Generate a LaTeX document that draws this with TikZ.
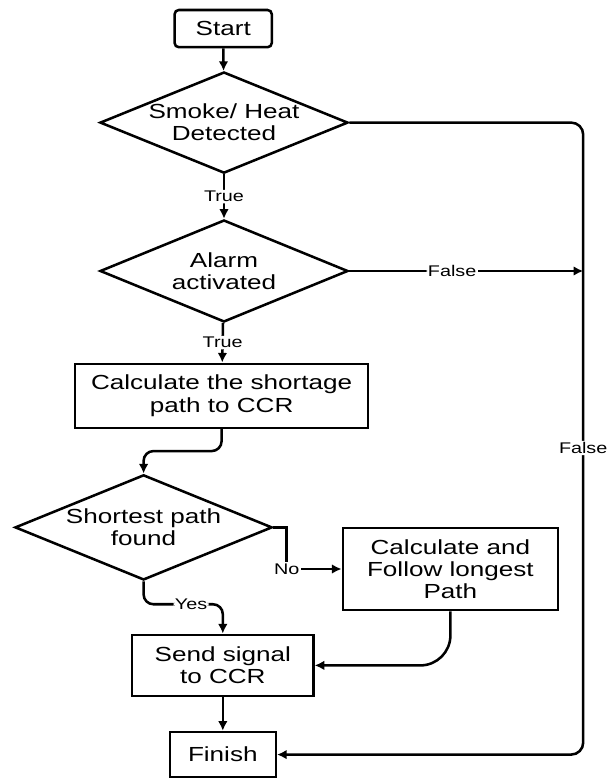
\documentclass[tikz,border=0pt]{standalone}
\usepackage{fontspec}
\setmainfont[FakeStretch=1.28]{Liberation Sans}
\usepackage{tikz}
\usetikzlibrary{
  arrows.meta,
  calc,
  positioning,
  shapes.geometric
}
\definecolor{flowInk}{HTML}{000000}
\tikzset{
  flowBox/.style={
    draw=flowInk,
    line width=1.8pt,
    align=center,
    inner sep=2pt,
    font=\fontsize{14.5}{15.8}\selectfont
  },
  flowTerminal/.style={flowBox, rounded corners=3pt},
  flowDecision/.style={
    draw=flowInk,
    diamond,
    aspect=2.45,
    line width=1.8pt,
    align=center,
    inner sep=0pt,
    font=\fontsize{14.5}{15.8}\selectfont
  },
  flowArrow/.style={-{Latex[length=2.4mm,width=2.4mm]}, line width=1.8pt, flowInk, rounded corners=7pt},
  flowLabel/.style={font=\fontsize{11}{12}\selectfont, fill=white, inner sep=1pt}
}

\begin{document}
\begin{tikzpicture}[x=1cm,y=1cm]
  \useasboundingbox (0,0) rectangle (15.375,19.475);
  \node[flowTerminal, minimum width=2.43cm, minimum height=0.93cm]
    (start) at (5.58,18.76) {Start};
  \node[flowDecision, minimum width=6.2cm, minimum height=2.53cm]
    (detect) at (5.6,16.41) {Smoke/ Heat\\Detected};
  \node[flowDecision, minimum width=6.2cm, minimum height=2.55cm]
    (alarm) at (5.6,12.7) {Alarm\\activated};
  \node[flowBox, minimum width=7.33cm, minimum height=1.6cm]
    (calc) at (5.54,9.58) {Calculate the shortage\\path to CCR};
  \node[flowDecision, inner xsep=-4pt, minimum width=6.43cm, minimum height=2.63cm]
    (found) at (3.59,6.29) {Shortest path\\found};
  \node[flowBox, minimum width=5.38cm, minimum height=2.05cm]
    (longest) at (11.26,5.25) {Calculate and\\Follow longest\\Path};
  \node[flowBox, minimum width=4.53cm, minimum height=1.53cm]
    (send) at (5.57,2.84) {Send signal\\to CCR};
  \node[flowBox, minimum width=2.65cm, minimum height=1.13cm]
    (finish) at (5.57,0.61) {Finish};
  \coordinate (rail) at (14.58,0);

  % main line
  \draw[flowArrow] (start) -- (detect);
  \draw[flowArrow] (detect) -- node[flowLabel]{True} (alarm);
  \draw[flowArrow] (alarm) -- node[flowLabel]{True} (calc);
  \draw[flowArrow] (calc.south) -- ++(0,-0.55) -| (found.north);
  \draw[flowArrow] (found.south) -- ++(0,-0.575) -| node[flowLabel, pos=0.3]{Yes} (send.north);
  \draw[flowArrow, rounded corners=0pt] (found.east) -- ++(0.33,0) |- node[flowLabel]{No} (longest.west);
  \draw[flowArrow, rounded corners=0.75cm] (longest.south) |- (send.east);
  \draw[flowArrow] (send) -- (finish);

  % false branches
  \draw[flowArrow] (alarm.east) -- node[flowLabel, pos=0.44]{False} (alarm.east -| rail);
  \draw[flowArrow, rounded corners=0.3cm] (detect.east) -- (detect.east -| rail)
    -- node[flowLabel, pos=0.515]{False} (finish.east -| rail) -- (finish.east);
\end{tikzpicture}
\end{document}
